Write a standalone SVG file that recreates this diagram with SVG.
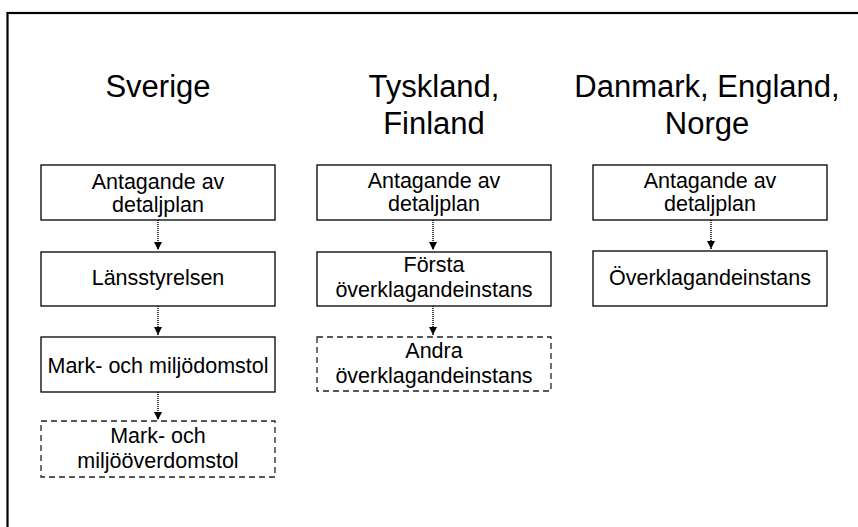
<svg xmlns="http://www.w3.org/2000/svg" width="858" height="527" viewBox="0 0 858 527">
  <style>
    .frame { fill: none; stroke: #000; stroke-width: 2.2; }
    .box { fill: #fff; stroke: #000; stroke-width: 1.3; }
    .opt { fill: #fff; stroke: #222; stroke-width: 1.3; stroke-dasharray: 6 4; }
    .head { font-family: "Liberation Sans", Arial, sans-serif; font-size: 31px; fill: #000; text-anchor: middle; }
    .lbl { font-family: "Liberation Sans", Arial, sans-serif; font-size: 21.5px; fill: #000; text-anchor: middle; }
    .link { fill: none; stroke: #000; stroke-width: 1.5; stroke-dasharray: 1 1; }
  </style>
  <defs>
    <marker id="tip" viewBox="0 0 8 8" refX="8" refY="4" markerWidth="8" markerHeight="8" markerUnits="userSpaceOnUse" orient="auto">
      <path d="M0,0 L8,4 L0,8 Z" fill="#000"/>
    </marker>
  </defs>

  <rect width="858" height="527" fill="#fff"/>
  <rect class="frame" x="7.5" y="13" width="900" height="600"/>

  <!-- column headings -->
  <g id="head-sverige">
    <text class="head" x="158" y="97">Sverige</text>
  </g>
  <g id="head-tyskland">
    <text class="head" x="434" y="97">Tyskland,</text>
    <text class="head" x="434" y="134">Finland</text>
  </g>
  <g id="head-danmark">
    <text class="head" x="707" y="97">Danmark, England,</text>
    <text class="head" x="707" y="134">Norge</text>
  </g>

  <!-- Sverige -->
  <g id="se-antagande">
    <rect class="box" x="41" y="165" width="234" height="55"/>
    <text class="lbl" x="158" y="189">Antagande av</text>
    <text class="lbl" x="158" y="212">detaljplan</text>
  </g>
  <g id="se-lansstyrelsen">
    <rect class="box" x="41" y="252" width="234" height="54"/>
    <text class="lbl" x="158" y="285">Länsstyrelsen</text>
  </g>
  <g id="se-mmd">
    <rect class="box" x="41" y="337" width="234" height="55"/>
    <text class="lbl" x="158" y="373">Mark- och miljödomstol</text>
  </g>
  <g id="se-mmod">
    <rect class="opt" x="41" y="421" width="234" height="56"/>
    <text class="lbl" x="158" y="443">Mark- och</text>
    <text class="lbl" x="158" y="468">miljööverdomstol</text>
  </g>

  <!-- Tyskland, Finland -->
  <g id="de-antagande">
    <rect class="box" x="317" y="165" width="234" height="55"/>
    <text class="lbl" x="434" y="188">Antagande av</text>
    <text class="lbl" x="434" y="211">detaljplan</text>
  </g>
  <g id="de-forsta">
    <rect class="box" x="317" y="252" width="234" height="54"/>
    <text class="lbl" x="434" y="272">Första</text>
    <text class="lbl" x="434" y="297">överklagandeinstans</text>
  </g>
  <g id="de-andra">
    <rect class="opt" x="317" y="337" width="234" height="54"/>
    <text class="lbl" x="434" y="358">Andra</text>
    <text class="lbl" x="434" y="383">överklagandeinstans</text>
  </g>

  <!-- Danmark, England, Norge -->
  <g id="dk-antagande">
    <rect class="box" x="593" y="165" width="234" height="55"/>
    <text class="lbl" x="710" y="188">Antagande av</text>
    <text class="lbl" x="710" y="211">detaljplan</text>
  </g>
  <g id="dk-overklagande">
    <rect class="box" x="593" y="251" width="234" height="55"/>
    <text class="lbl" x="710" y="285">Överklagandeinstans</text>
  </g>

  <!-- connectors -->
  <g id="connectors">
    <line class="link" x1="158" y1="220" x2="158" y2="250" marker-end="url(#tip)"/>
    <line class="link" x1="158" y1="306" x2="158" y2="335" marker-end="url(#tip)"/>
    <line class="link" x1="158" y1="392" x2="158" y2="420" marker-end="url(#tip)"/>
    <line class="link" x1="433" y1="220" x2="433" y2="250" marker-end="url(#tip)"/>
    <line class="link" x1="433" y1="306" x2="433" y2="335" marker-end="url(#tip)"/>
    <line class="link" x1="711" y1="220" x2="711" y2="249" marker-end="url(#tip)"/>
  </g>
</svg>
